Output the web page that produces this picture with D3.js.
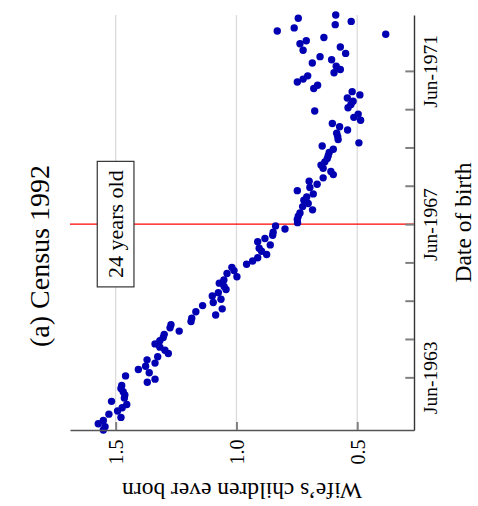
<!DOCTYPE html>
<html>
<head>
<meta charset="utf-8">
<script src="https://cdn.jsdelivr.net/npm/d3@7"></script>
<style>
  html, body { margin: 0; padding: 0; background: #fff; }
  svg { display: block; font-family: "Liberation Serif", "Times New Roman", serif; }
</style>
</head>
<body>
<svg id="chart" width="478" height="506"></svg>
<script>
// Birth cohorts: one point per month, January 1962 to November 1972
const firstMonth = new Date(1962, 0, 1);
const endMonth = new Date(1972, 11, 1);
const birthMonths = d3.timeMonth.range(firstMonth, endMonth).map(d => d3.timeDay.offset(d, 14));

// Mean number of children ever born to the wife, per birth month (chronological)
const childrenEverBorn = [
  1.551, 1.544, 1.572, 1.551, 1.478, 1.528, 1.492, 1.473, 1.454, 1.517,
  1.464, 1.462, 1.469, 1.478, 1.475, 1.369, 1.337, 1.459, 1.361, 1.406,
  1.376, 1.337, 1.370, 1.326, 1.282, 1.296, 1.317, 1.337, 1.317, 1.303,
  1.299, 1.237, 1.275, 1.271, 1.188, 1.185, 1.086, 1.168, 1.059, 1.140,
  1.096, 1.064, 1.100, 1.075, 1.043, 1.051, 1.071, 1.052, 0.998, 1.039,
  1.010, 1.019, 0.958, 0.933, 0.912, 0.875, 0.896, 0.906, 0.860, 0.912,
  0.882, 0.850, 0.848, 0.799, 0.838, 0.747, 0.748, 0.744, 0.737, 0.685,
  0.726, 0.703, 0.721, 0.709, 0.682, 0.748, 0.696, 0.666, 0.699, 0.641,
  0.599, 0.609, 0.641, 0.650, 0.634, 0.624, 0.620, 0.616, 0.599, 0.645,
  0.493, 0.579, 0.581, 0.585, 0.540, 0.573, 0.603, 0.486, 0.514, 0.496,
  0.676, 0.538, 0.526, 0.517, 0.541, 0.489, 0.521, 0.680, 0.664, 0.748,
  0.724, 0.705, 0.596, 0.570, 0.587, 0.686, 0.606, 0.654, 0.548, 0.724,
  0.570, 0.737, 0.711, 0.638, 0.382, 0.831, 0.761, 0.591, 0.525, 0.744,
  0.589
];

// Axis ticks
const valueTicks = [1.5, 1.0, 0.5];
const tickYears = [1963, 1964, 1965, 1966, 1967, 1968, 1969, 1970, 1971];
const labelledYears = [1963, 1967, 1971];
const cutoffYear = 1967;          // cohort aged 24 at the 1992 census
const cutoffLabel = "24 years old";

const titleText = "(a) Census 1992";
const valueTitle = "Wife\u2019s children ever born";
const dateTitle = "Date of birth";

const points = birthMonths.map((d, i) => ({ date: d, value: childrenEverBorn[i] }));

const svg = d3.select("#chart");

// The panel is laid on its side: dates run upward along the right edge,
// children ever born runs along the bottom edge (decreasing to the right).
const dateScale = d3.scaleTime()
  .domain([birthMonths[0], birthMonths[birthMonths.length - 1]])
  .range([430, 15]);

const valueScale = d3.scaleLinear()
  .domain([1.689, 0.265])
  .range([70, 414]);

const [vx0, vx1] = valueScale.range();
const [dy0, dy1] = dateScale.range();

// grid lines
svg.append("g")
  .selectAll("line")
  .data(valueTicks)
  .join("line")
  .attr("x1", d => valueScale(d))
  .attr("x2", d => valueScale(d))
  .attr("y1", dy1)
  .attr("y2", dy0)
  .attr("stroke", "#dcdcdc")
  .attr("stroke-width", 1.3);

// cohort cut-off line
const cutoffDate = new Date(cutoffYear, 5, 1);
svg.append("line")
  .attr("x1", vx0)
  .attr("x2", vx1)
  .attr("y1", dateScale(cutoffDate))
  .attr("y2", dateScale(cutoffDate))
  .attr("stroke", "#ff0000")
  .attr("stroke-width", 1.3);

// points
svg.append("g")
  .selectAll("circle")
  .data(points)
  .join("circle")
  .attr("cx", d => valueScale(d.value))
  .attr("cy", d => dateScale(d.date))
  .attr("r", 3.7)
  .attr("fill", "#0000b2");

// bottom axis (values)
const valueAxis = svg.append("g")
  .attr("transform", `translate(0,${dy0})`)
  .call(d3.axisBottom(valueScale)
    .tickValues(valueTicks)
    .tickSizeInner(-8)
    .tickSizeOuter(0)
    .tickFormat(d3.format(".1f")));
valueAxis.select(".domain").attr("stroke", "#555").attr("stroke-width", 1.6);
valueAxis.selectAll(".tick line").attr("stroke", "#808080").attr("stroke-width", 2);
valueAxis.selectAll(".tick text")
  .attr("x", null).attr("y", null).attr("dy", null)
  .attr("transform", "translate(6.8,22) rotate(-90)")
  .attr("text-anchor", "middle")
  .attr("fill", "#000")
  .style("font-size", "20px")
  .style("font-family", "Liberation Serif, serif");

// right axis (dates)
const tickDates = tickYears.map(y => new Date(y, 5, 1));
const dateAxis = svg.append("g")
  .attr("transform", `translate(${vx1},0)`)
  .call(d3.axisRight(dateScale)
    .tickValues(tickDates)
    .tickSizeInner(-8.7)
    .tickSizeOuter(0)
    .tickFormat(d => labelledYears.includes(d.getFullYear()) ? "Jun-" + d.getFullYear() : ""));
dateAxis.select(".domain").attr("stroke", "#333").attr("stroke-width", 1.4);
dateAxis.selectAll(".tick line").attr("stroke", "#808080").attr("stroke-width", 2);
dateAxis.selectAll(".tick text")
  .attr("x", null).attr("y", null).attr("dy", null)
  .attr("transform", "translate(23,0) rotate(-90)")
  .attr("text-anchor", "middle")
  .attr("fill", "#000")
  .style("font-size", "19.5px")
  .style("font-family", "Liberation Serif, serif");

// axis titles, centred on their axes
svg.append("text")
  .attr("transform", `translate(${(vx0 + vx1) / 2},483) rotate(180)`)
  .attr("text-anchor", "middle")
  .style("font-size", "23.5px")
  .text(valueTitle);

svg.append("text")
  .attr("transform", `translate(471,${(dy0 + dy1) / 2}) rotate(-90)`)
  .attr("text-anchor", "middle")
  .style("font-size", "23.5px")
  .text(dateTitle);

// panel title
svg.append("text")
  .attr("transform", "translate(49,256) rotate(-90)")
  .attr("text-anchor", "middle")
  .style("font-size", "28px")
  .text(titleText);

// boxed label on the cut-off line
const labelGroup = svg.append("g")
  .attr("transform", `translate(${valueScale(1.5)},${dateScale(cutoffDate)}) rotate(-90)`);
const labelRect = labelGroup.append("rect");
const labelText = labelGroup.append("text")
  .attr("text-anchor", "middle")
  .attr("y", 7.3)
  .style("font-size", "22px")
  .text(cutoffLabel);
const bb = labelText.node().getBBox();
labelRect
  .attr("x", bb.x - 9)
  .attr("width", bb.width + 18)
  .attr("y", -18.4)
  .attr("height", 36.7)
  .attr("fill", "#fff")
  .attr("stroke", "#333")
  .attr("stroke-width", 1.2);
</script>
</body>
</html>
